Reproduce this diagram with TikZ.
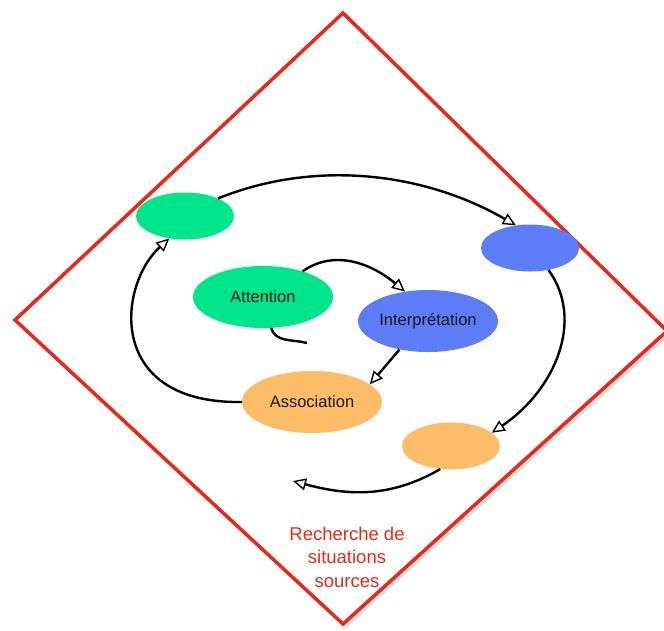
\documentclass[tikz,border=0pt]{standalone}
\usepackage{fontspec}
\setmainfont{Liberation Sans}
\usetikzlibrary{shapes.geometric, arrows.meta, shadows}

\definecolor{mint}{RGB}{0,228,140}
\definecolor{sky}{RGB}{92,124,248}
\definecolor{peach}{RGB}{253,188,104}
\definecolor{frame}{RGB}{232,40,28}

\tikzset{
  blob/.style={ellipse, inner sep=0pt, minimum width=140pt, minimum height=62pt,
    text=black!90, font=\fontsize{16.5}{19}\selectfont},
  spot/.style={blob, minimum width=98pt, minimum height=47pt},
  flow/.style={line width=2.4pt, -{Triangle[fill=white, length=13pt, width=12pt, line width=1.4pt]}},
}

\begin{document}
\begin{tikzpicture}[x=1pt, y=-1pt]
    \useasboundingbox (0,0) rectangle (664,630);
    \filldraw[frame, fill=white, line width=3.5pt,
      drop shadow={opacity=0.25, shadow xshift=3pt, shadow yshift=-4pt}]
      (343,13) -- (667,331) -- (343,624) -- (15,320) -- cycle;

    \node[spot, fill=mint] (G) at (185,216) {};
    \node[spot, fill=sky] (B) at (530,248) {};
    \node[blob, fill=mint] (Att) at (263,297) {Attention};
    \node[blob, fill=sky] (Int) at (428,321) {Interprétation};
    \node[blob, fill=peach] (Ass) at (312,402) {Association};
    \node[spot, fill=peach] (O) at (451,446) {};
    \coordinate (tip) at (293,481);
    \coordinate (loose) at (307,343);

    \node[text=frame, align=center, font=\fontsize{18.5}{23.5}\selectfont] (R) at (347,557)
      {Recherche de\\situations\\sources};

    \path[flow]
      (G.28) edge[out=22, in=150, looseness=0.9] (B.122)
      (O.-115) edge[out=-150, in=-15] (tip)
      (Att.33) edge[out=35, in=140] (Int.128)
      (Int.-135) edge (Ass.17);
    \draw[flow] (B.-50) .. controls (585,320) and (555,390) .. (O.18);
    \draw[flow] (Ass.west) .. controls (105,404) and (118,285) .. (G.-125);
    \draw[line width=2.4pt] (Att.-75) to[out=-75, in=165] (loose);
\end{tikzpicture}
\end{document}
